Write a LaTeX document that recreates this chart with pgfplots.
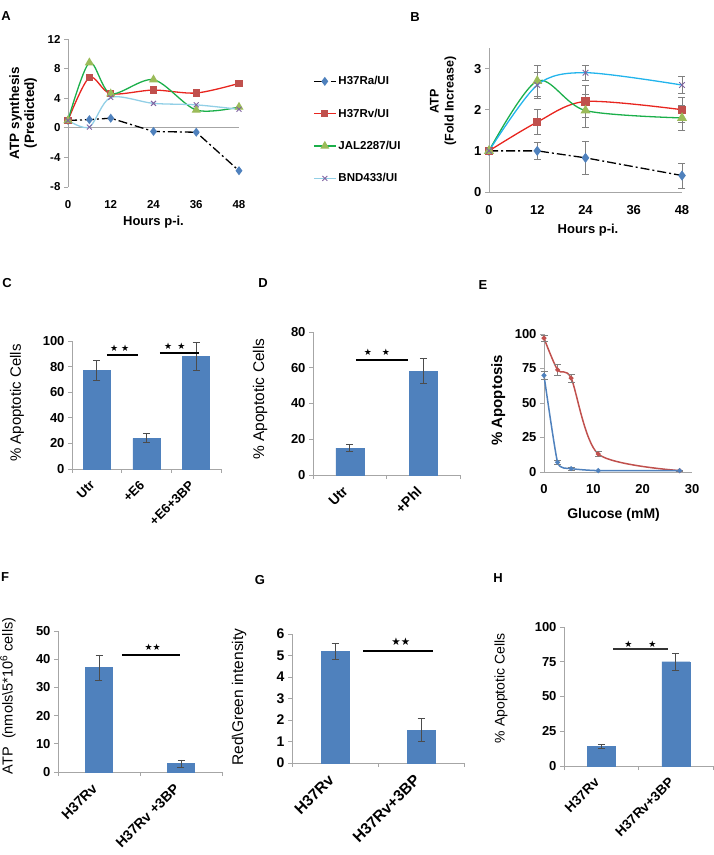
\documentclass[border=0pt]{standalone}
\usepackage{pgfplots}
\pgfplotsset{compat=1.18}
\usepackage{fontspec}
\setmainfont{Liberation Sans}
\newfontfamily\djv{DejaVu Sans}
\definecolor{barblue}{HTML}{4F81BD}
\definecolor{mred}{HTML}{C0504D}
\definecolor{lred}{HTML}{E8251F}
\definecolor{lgreen}{HTML}{1BAF4A}
\definecolor{mgreen}{HTML}{9BBB59}
\definecolor{lcyan}{HTML}{22B4EC}
\definecolor{acyan}{HTML}{92CFE6}
\definecolor{mpurple}{HTML}{8064A2}
\definecolor{axgray}{HTML}{A6A6A6}
\tikzset{bstar/.style={font=\djv\fontsize{9}{9}\selectfont}}
\pgfplotsset{
  base/.style={scale only axis, anchor=south west,
    axis x line*=bottom, axis y line*=left,
    axis line style={axgray, line width=0.8pt},
    tick style={axgray, line width=0.8pt},
    tick align=outside, major tick length=4pt,
    ticklabel style={font=\fontsize{13}{14}\selectfont\bfseries},
    label style={font=\fontsize{13}{15}\selectfont\bfseries},
    /pgf/number format/assume math mode=true,
    clip=false,
  },
  ebar/.style={error bars/.cd, y dir=both, y explicit,
    error bar style={black!70, line width=0.7pt, solid},
    error mark options={rotate=90, mark size=3.5pt, black!70, line width=0.7pt}},
  gbar/.style={error bars/.cd, y dir=both, y explicit,
    error bar style={gray, line width=0.7pt, solid},
    error mark options={rotate=90, mark size=3.5pt, gray, line width=0.7pt}},
  barax/.style={base, ybar, bar width=#1, ymin=0,
    xticklabels={},
    extra x tick style={major tick length=0pt},
    xticklabel style={rotate=45, anchor=north east, inner sep=2pt, xshift=-11pt},
  },
}
\begin{document}
\begin{tikzpicture}[x=1pt,y=1pt]
\useasboundingbox (0,0) rectangle (714,855);
% panel letters
\begin{scope}[every node/.style={font=\fontsize{13}{13}\selectfont\bfseries}]
\node at (6,839) {A};
\node at (415,838) {B};
\node at (7,572) {C};
\node at (263,572) {D};
\node at (483,570) {E};
\node at (5,278) {F};
\node at (260,275) {G};
\node at (498,277) {H};
\end{scope}

% ---------- A ----------
\begin{axis}[base, at={(68pt,668pt)}, width=171pt, height=148pt,
  xmin=0, xmax=48, ymin=-8, ymax=12,
  xtick={0,12,24,36,48}, ytick={-8,-4,0,4,8,12},
  ticklabel style={font=\fontsize{11.5}{12}\selectfont\bfseries},
  xticklabel style={yshift=-6pt},
  x axis line style={draw=none}, xtick style={draw=none},
  extra y ticks={0}, extra y tick labels={},
  extra y tick style={ymajorgrids, major grid style={axgray, line width=0.8pt}},
  xlabel={Hours p-i.}, ylabel={ATP synthesis\\(Predicted)},
  xlabel style={at={(axis description cs:0.5,-0.236)}, anchor=center},
  ylabel style={at={(axis description cs:-0.263,0.5)}, anchor=center, align=center, font=\fontsize{13.5}{15}\selectfont\bfseries},
  legend style={at={(1.415,0.775)}, anchor=north west, draw=none, fill=none,
    font=\fontsize{11.5}{12}\selectfont\bfseries, row sep=18.5pt, legend cell align=left},
  legend image code/.code={\draw[mark repeat=2,mark phase=2] plot coordinates {(0pt,0pt)(11pt,0pt)(22pt,0pt)};},
]
\addplot[black, line width=1.3pt, dash pattern=on 9pt off 3pt on 2pt off 3pt, mark=diamond*, mark size=3.5pt, mark options={solid, fill=barblue, draw=barblue}]
  coordinates {(0,1)(6,1.1)(12,1.3)(24,-0.5)(36,-0.6)(48,-5.8)};
\addlegendentry{H37Ra/UI}
\addplot[lred, line width=1.3pt, smooth, mark=square*, mark size=3pt, mark options={fill=mred, draw=mred}]
  coordinates {(0,1)(6,6.8)(12,4.6)(24,5.1)(36,4.7)(48,6)};
\addlegendentry{H37Rv/UI}
\addplot[lgreen, line width=1.3pt, smooth, mark=triangle*, mark size=4pt, mark options={fill=mgreen, draw=mgreen}]
  coordinates {(0,1)(6,8.8)(12,4.6)(24,6.5)(36,2.4)(48,2.8)};
\addlegendentry{JAL2287/UI}
\addplot[acyan, line width=1.3pt, smooth, mark=x, mark size=3.5pt, mark options={draw=mpurple, line width=0.9pt}]
  coordinates {(0,1)(6,0.1)(12,4.1)(24,3.3)(36,3.1)(48,2.5)};
\addlegendentry{BND433/UI}
\end{axis}

% ---------- B ----------
\begin{axis}[base, at={(489pt,663pt)}, width=193pt, height=144pt,
  xmin=0, xmax=48, ymin=0, ymax=3.5,
  xtick={0,12,24,36,48}, ytick={0,1,2,3}, xtick style={draw=none},
  xticklabel style={yshift=-6pt},
  xlabel={Hours p-i.}, ylabel={ATP\\(Fold Increase)},
  xlabel style={at={(axis description cs:0.513,-0.264)}, anchor=center},
  ylabel style={at={(axis description cs:-0.238,0.63)}, anchor=center, align=center, font=\fontsize{12.5}{15}\selectfont\bfseries},
]
\addplot[black, line width=1.3pt, dash pattern=on 9pt off 3pt on 2pt off 3pt, mark=diamond*, mark size=4pt, mark options={solid, fill=barblue, draw=barblue}, gbar]
  coordinates {(0,1) (12,1.0) +- (0,0.2) (24,0.83) +- (0,0.4) (48,0.4) +- (0,0.3)};
\addplot[lred, line width=1.3pt, smooth, mark=square*, mark size=3.5pt, mark options={fill=mred, draw=mred}, gbar]
  coordinates {(0,1) (12,1.7) +- (0,0.3) (24,2.2) +- (0,0.38) (48,2.0) +- (0,0.3)};
\addplot[lgreen, line width=1.3pt, smooth, mark=triangle*, mark size=4.5pt, mark options={fill=mgreen, draw=mgreen}, gbar]
  coordinates {(0,1) (12,2.7) +- (0,0.38) (24,1.98) +- (0,0.4) (48,1.8) +- (0,0.3)};
\addplot[lcyan, line width=1.3pt, smooth, mark=x, mark size=4pt, mark options={draw=mpurple, line width=0.9pt}, gbar]
  coordinates {(0,1) (12,2.6) +- (0,0.32) (24,2.9) +- (0,0.18) (48,2.6) +- (0,0.2)};
\end{axis}

% ---------- C ----------
\begin{axis}[barax=27pt, at={(72pt,386pt)}, width=149pt, height=128pt,
  xmin=-0.5, xmax=2.5, ymax=100, ytick={0,20,40,60,80,100},
  xtick={-0.5,0.5,1.5,2.5}, extra x ticks={0,1,2}, extra x tick labels={Utr,+E6,+E6+3BP},
  xticklabel style={font=\fontsize{13}{13}\selectfont\bfseries},
  ylabel={\% Apoptotic Cells},
  ylabel style={at={(axis description cs:-0.369,0.516)}, anchor=center, font=\fontsize{15}{15}\selectfont},
]
\addplot[fill=barblue, draw=barblue, ebar] coordinates {(0,77) +- (0,8) (1,24) +- (0,3.5) (2,88) +- (0,11)};
\draw[black, line width=1.3pt] (axis cs:0.2,89) -- (axis cs:0.83,89);
\node[bstar] at (axis cs:0.46,94.5) {★ ★};
\draw[black, line width=1.3pt] (axis cs:1.27,90.6) -- (axis cs:2.06,90.6);
\node[bstar] at (axis cs:1.57,95.5) {★\hspace{5pt}★};
\end{axis}

% ---------- D ----------
\begin{axis}[barax=28pt, at={(313pt,380pt)}, width=147pt, height=143pt,
  xmin=-0.5, xmax=1.5, ymax=80, ytick={0,20,40,60,80},
  xtick={-0.5,0.5,1.5}, extra x ticks={0,1}, extra x tick labels={Utr,+Phl},
  xticklabel style={font=\fontsize{14}{14}\selectfont\bfseries},
  ylabel={\% Apoptotic Cells},
  ylabel style={at={(axis description cs:-0.36,0.53)}, anchor=center, font=\fontsize{15.5}{15}\selectfont},
]
\addplot[fill=barblue, draw=barblue, ebar] coordinates {(0,15) +- (0,2) (1,58) +- (0,7)};
\draw[black, line width=1.3pt] (axis cs:0.085,64.3) -- (axis cs:0.79,64.3);
\node[bstar] at (axis cs:0.37,68.5) {★\hspace{10pt}★};
\end{axis}

% ---------- E ----------
\begin{axis}[base, at={(544pt,383pt)}, width=148pt, height=138pt,
  xmin=0, xmax=30, ymin=0, ymax=100,
  xtick={0,10,20,30}, ytick={0,25,50,75,100}, xtick style={draw=none},
  xticklabel style={yshift=-5pt},
  xlabel={Glucose (mM)}, ylabel={\% Apoptosis},
  xlabel style={at={(axis description cs:0.47,-0.31)}, anchor=center, font=\fontsize{14}{15}\selectfont\bfseries},
  ylabel style={at={(axis description cs:-0.31,0.52)}, anchor=center, font=\fontsize{15}{15}\selectfont\bfseries},
]
\addplot[mred, line width=1.5pt, smooth, tension=0.45, mark=*, mark size=1.6pt, gbar]
  coordinates {(0,97) +- (0,2) (2.75,74) +- (0,4) (5.5,68) +- (0,3) (11,13) +- (0,2) (27.5,1) +- (0,0.5)};
\addplot[barblue, line width=1.5pt, smooth, tension=0.3, mark=*, mark size=1.6pt, gbar]
  coordinates {(0,70) +- (0,3) (2.75,7) +- (0,1.5) (5.5,2.5) +- (0,1) (11,1) (27.5,1)};
\end{axis}

% ---------- F ----------
\begin{axis}[barax=27pt, at={(58pt,83pt)}, width=164pt, height=141pt,
  xmin=-0.5, xmax=1.5, ymax=50, ytick={0,10,20,30,40,50},
  xtick={-0.5,0.5,1.5}, extra x ticks={0,1}, extra x tick labels={H37Rv,H37Rv +3BP},
  xticklabel style={font=\fontsize{14}{14}\selectfont\bfseries},
  ylabel={ATP\ \ (nmols\textbackslash 5*10\textsuperscript{6} cells)},
  ylabel style={at={(axis description cs:-0.305,0.54)}, anchor=center, font=\fontsize{14.5}{15}\selectfont},
]
\addplot[fill=barblue, draw=barblue, ebar] coordinates {(0,37) +- (0,4.5) (1,3) +- (0,1.3)};
\draw[black, line width=1.3pt] (axis cs:0.28,41.5) -- (axis cs:0.99,41.5);
\node[bstar] at (axis cs:0.655,44.3) {★★};
\end{axis}

% ---------- G ----------
\begin{axis}[barax=28pt, at={(292pt,92pt)}, width=172pt, height=129pt,
  xmin=-0.5, xmax=1.5, ymax=6, ytick={0,1,2,3,4,5,6},
  xtick={-0.5,0.5,1.5}, extra x ticks={0,1}, extra x tick labels={H37Rv,H37Rv+3BP},
  ticklabel style={font=\fontsize{14}{14}\selectfont\bfseries},
  xticklabel style={font=\fontsize{15.5}{15}\selectfont\bfseries},
  ylabel={Red\textbackslash Green intensity},
  ylabel style={at={(axis description cs:-0.308,0.51)}, anchor=center, font=\fontsize{15.5}{15}\selectfont},
]
\addplot[fill=barblue, draw=barblue, ebar] coordinates {(0,5.2) +- (0,0.37) (1,1.53) +- (0,0.53)};
\draw[black, line width=1.8pt] (axis cs:0.326,5.21) -- (axis cs:1.14,5.21);
\node[font=\djv\fontsize{10.5}{10}\selectfont] at (axis cs:0.765,5.63) {★★};
\end{axis}

% ---------- H ----------
\begin{axis}[barax=28pt, at={(564pt,89pt)}, width=149pt, height=139pt,
  xmin=-0.5, xmax=1.5, ymax=100, ytick={0,25,50,75,100},
  xtick={-0.5,0.5,1.5}, extra x ticks={0,1}, extra x tick labels={H37Rv,H37Rv+3BP},
  xticklabel style={font=\fontsize{13.5}{14}\selectfont\bfseries},
  ylabel={\% Apoptotic Cells},
  ylabel style={at={(axis description cs:-0.423,0.56)}, anchor=center, font=\fontsize{14}{15}\selectfont},
]
\addplot[fill=barblue, draw=barblue, ebar] coordinates {(0,14) +- (0,1.5) (1,75) +- (0,6)};
\draw[black!80, line width=1.3pt] (axis cs:0.16,84.2) -- (axis cs:0.9,84.2);
\node[bstar] at (axis cs:0.525,87.8) {★\hspace{16pt}★};
\end{axis}
\end{tikzpicture}
\end{document}
